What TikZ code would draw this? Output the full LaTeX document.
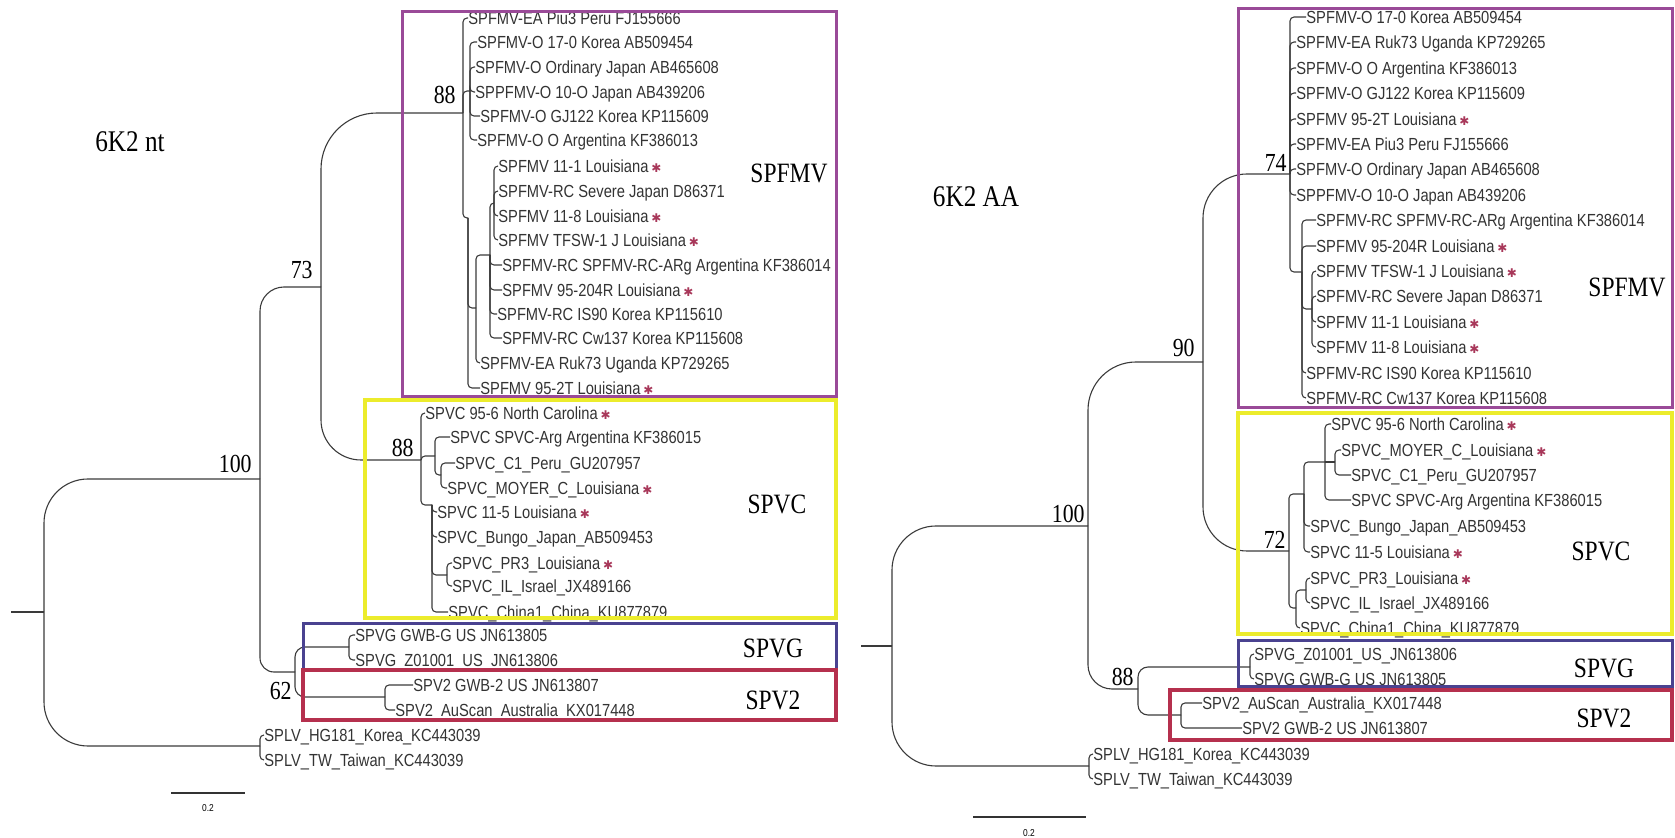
\documentclass[tikz,border=0pt]{standalone}
\usepackage{fontspec}
\setmainfont{Liberation Serif}[FakeStretch=0.84]
\newfontfamily\leaffont{Liberation Sans}[FakeStretch=0.84]
\newfontfamily\starfont{DejaVu Sans}
\definecolor{fmvStroke}{HTML}{9A4A98}
\definecolor{pvcStroke}{HTML}{ECEC2C}
\definecolor{pvgStroke}{HTML}{4A4290}
\definecolor{pvtwoStroke}{HTML}{B5304E}
\definecolor{starRed}{HTML}{A8385A}
\definecolor{branchGray}{HTML}{3A3A3A}
\newcommand{\lsv}{\,{\starfont\fontsize{6}{6}\selectfont\color{starRed}✱}}

\begin{document}
\begin{tikzpicture}[x=0.5pt,y=-0.5pt,
  leaf/.style={anchor=west,inner sep=0pt,text height=6.3pt,text depth=0pt,text=black!80,font=\leaffont\fontsize{8.75}{10}\selectfont},
  boot/.style={anchor=south east,inner sep=0pt,font=\fontsize{13}{13}\selectfont},
  clade/.style={inner sep=0pt,font=\fontsize{14}{14}\selectfont},
  title/.style={inner sep=0pt,font=\fontsize{15}{15}\selectfont},
  br/.style={draw=branchGray,line width=0.55pt,rounded corners=2pt},
  deep/.style={br,rounded corners=#1},
  box/.style={draw=#1,line width=1.5pt},
  bar/.style={draw=black!80,line width=0.6pt},
  barlabel/.style={inner sep=0pt,font=\leaffont\fontsize{5}{5}\selectfont}
]
\useasboundingbox (0,0) rectangle (1675,838);
% left tree: 6K2 nucleotide
\node[title] (tL) at (130,142) {6K2 nt};
\node[leaf] (L01) at (468,18) {SPFMV-EA Piu3 Peru FJ155666};
\node[leaf] (L02) at (477,42) {SPFMV-O 17-0 Korea AB509454};
\node[leaf] (L03) at (475,67) {SPFMV-O Ordinary Japan AB465608};
\node[leaf] (L04) at (475,92) {SPPFMV-O 10-O Japan AB439206};
\node[leaf] (L05) at (480,116) {SPFMV-O GJ122 Korea KP115609};
\node[leaf] (L06) at (477,140) {SPFMV-O O Argentina KF386013};
\node[leaf] (L07) at (498,166) {SPFMV 11-1 Louisiana\lsv};
\node[leaf] (L08) at (498,191) {SPFMV-RC Severe Japan D86371};
\node[leaf] (L09) at (498,216) {SPFMV 11-8 Louisiana\lsv};
\node[leaf] (L10) at (498,240) {SPFMV TFSW-1 J Louisiana\lsv};
\node[leaf] (L11) at (502,265) {SPFMV-RC SPFMV-RC-ARg Argentina KF386014};
\node[leaf] (L12) at (502,290) {SPFMV 95-204R Louisiana\lsv};
\node[leaf] (L13) at (497,314) {SPFMV-RC IS90 Korea KP115610};
\node[leaf] (L14) at (502,338) {SPFMV-RC Cw137 Korea KP115608};
\node[leaf] (L15) at (480,363) {SPFMV-EA Ruk73 Uganda KP729265};
\node[leaf] (L16) at (480,388) {SPFMV 95-2T Louisiana\lsv};
\node[leaf] (L17) at (425,413) {SPVC 95-6 North Carolina\lsv};
\node[leaf] (L18) at (450,437) {SPVC SPVC-Arg Argentina KF386015};
\node[leaf] (L19) at (455,463) {SPVC\_C1\_Peru\_GU207957};
\node[leaf] (L20) at (447,488) {SPVC\_MOYER\_C\_Louisiana\lsv};
\node[leaf] (L21) at (437,512) {SPVC 11-5 Louisiana\lsv};
\node[leaf] (L22) at (437,537) {SPVC\_Bungo\_Japan\_AB509453};
\node[leaf] (L23) at (452,563) {SPVC\_PR3\_Louisiana\lsv};
\node[leaf] (L24) at (452,586) {SPVC\_IL\_Israel\_JX489166};
\node[leaf] (L25) at (448,612) {SPVC\_China1\_China\_KU877879};
\node[leaf] (L26) at (355,635) {SPVG GWB-G US JN613805};
\node[leaf] (L27) at (355,660) {SPVG\_Z01001\_US\_JN613806};
\node[leaf] (L28) at (413,685) {SPV2 GWB-2 US JN613807};
\node[leaf] (L29) at (395,710) {SPV2\_AuScan\_Australia\_KX017448};
\node[leaf] (L30) at (264,735) {SPLV\_HG181\_Korea\_KC443039};
\node[leaf] (L31) at (264,760) {SPLV\_TW\_Taiwan\_KC443039};
\coordinate (rL0) at (11,612);
\coordinate (rL) at (44,612);
\coordinate (n100L) at (260,479);
\coordinate (sL) at (260,746);
\coordinate (n73L) at (321,287);
\coordinate (n62L) at (295,672);
\coordinate (n88aL) at (463,113);
\coordinate (n88bL) at (421,460);
\coordinate (oL) at (470,91);
\coordinate (dL) at (468,218);
\coordinate (eL) at (476,308);
\coordinate (fL) at (490,255);
\coordinate (gL) at (494,203);
\coordinate (cA) at (435,456);
\coordinate (cB) at (441,475);
\coordinate (cC) at (432,505);
\coordinate (cD) at (447,575);
\coordinate (gvL) at (349,647);
\coordinate (v2L) at (385,697);
\draw[br] (rL0) -- (rL);
\draw[deep=22pt] (rL) |- (n100L);
\draw[deep=22pt] (rL) |- (sL);
\draw[deep=12pt] (n100L) |- (n73L);
\draw[deep=7pt] (n100L) |- (n62L);
\draw[deep=28pt] (n73L) |- (n88aL);
\draw[deep=20pt] (n73L) |- (n88bL);
\draw[br] (n88aL) |- (L01.west);
\draw[br] (n88aL) |- (oL);
\draw[br] (n88aL) |- (dL);
\draw[br] (oL) |- (L02.west);
\draw[br] (oL) |- (L03.west);
\draw[br] (oL) |- (L04.west);
\draw[br] (oL) |- (L05.west);
\draw[br] (oL) |- (L06.west);
\draw[br] (dL) |- (L16.west);
\draw[br] (dL) |- (eL);
\draw[br] (eL) |- (fL);
\draw[br] (eL) |- (L15.west);
\draw[br] (fL) |- (gL);
\draw[br] (fL) |- (L11.west);
\draw[br] (fL) |- (L12.west);
\draw[br] (fL) |- (L13.west);
\draw[br] (fL) |- (L14.west);
\draw[br] (gL) |- (L07.west);
\draw[br] (gL) |- (L08.west);
\draw[br] (gL) |- (L09.west);
\draw[br] (gL) |- (L10.west);
\draw[br] (n88bL) |- (L17.west);
\draw[br] (n88bL) |- (cA);
\draw[br] (n88bL) |- (cC);
\draw[br] (cA) |- (L18.west);
\draw[br] (cA) |- (cB);
\draw[br] (cB) |- (L19.west);
\draw[br] (cB) |- (L20.west);
\draw[br] (cC) |- (L21.west);
\draw[br] (cC) |- (L22.west);
\draw[br] (cC) |- (cD);
\draw[br] (cC) |- (L25.west);
\draw[br] (cD) |- (L23.west);
\draw[br] (cD) |- (L24.west);
\draw[deep=5pt] (n62L) |- (gvL);
\draw[deep=5pt] (n62L) |- (v2L);
\draw[br] (gvL) |- (L26.west);
\draw[br] (gvL) |- (L27.west);
\draw[br] (v2L) |- (L28.west);
\draw[br] (v2L) |- (L29.west);
\draw[br] (sL) |- (L30.west);
\draw[br] (sL) |- (L31.west);
\node[boot] (b100L) at (252,473) {100};
\node[boot] (b73L) at (313,279) {73};
\node[boot] (b88aL) at (456,104) {88};
\node[boot] (b88bL) at (414,457) {88};
\node[boot,anchor=north east] (b62L) at (292,682) {62};
\draw[box=fmvStroke] (402,12) rectangle (836,397);
\draw[box=pvcStroke,line width=2pt] (365,400) rectangle (836,618);
\draw[box=pvgStroke] (303,624) rectangle (836,670);
\draw[box=pvtwoStroke,line width=2pt] (303,670) rectangle (836,720);
\node[clade] (kFMVL) at (789,173) {SPFMV};
\node[clade] (kPVCL) at (777,504) {SPVC};
\node[clade] (kPVGL) at (773,648) {SPVG};
\node[clade] (kPV2L) at (773,700) {SPV2};
\coordinate (sbLa) at (171,793);
\coordinate (sbLb) at (245,793);
\draw[bar] (sbLa) -- (sbLb);
\node[barlabel] (sbL) at (208,808) {0.2};
% right tree: 6K2 amino acid
\node[title] (tR) at (976,197) {6K2 AA};
\node[leaf] (R01) at (1306,17) {SPFMV-O 17-0 Korea AB509454};
\node[leaf] (R02) at (1296,42) {SPFMV-EA Ruk73 Uganda KP729265};
\node[leaf] (R03) at (1296,68) {SPFMV-O O Argentina KF386013};
\node[leaf] (R04) at (1296,93) {SPFMV-O GJ122 Korea KP115609};
\node[leaf] (R05) at (1296,119) {SPFMV 95-2T Louisiana\lsv};
\node[leaf] (R06) at (1296,144) {SPFMV-EA Piu3 Peru FJ155666};
\node[leaf] (R07) at (1296,169) {SPFMV-O Ordinary Japan AB465608};
\node[leaf] (R08) at (1296,195) {SPPFMV-O 10-O Japan AB439206};
\node[leaf] (R09) at (1316,220) {SPFMV-RC SPFMV-RC-ARg Argentina KF386014};
\node[leaf] (R10) at (1316,246) {SPFMV 95-204R Louisiana\lsv};
\node[leaf] (R11) at (1316,271) {SPFMV TFSW-1 J Louisiana\lsv};
\node[leaf] (R12) at (1316,296) {SPFMV-RC Severe Japan D86371};
\node[leaf] (R13) at (1316,322) {SPFMV 11-1 Louisiana\lsv};
\node[leaf] (R14) at (1316,347) {SPFMV 11-8 Louisiana\lsv};
\node[leaf] (R15) at (1306,373) {SPFMV-RC IS90 Korea KP115610};
\node[leaf] (R16) at (1306,398) {SPFMV-RC Cw137 Korea KP115608};
\node[leaf] (R17) at (1331,424) {SPVC 95-6 North Carolina\lsv};
\node[leaf] (R18) at (1341,450) {SPVC\_MOYER\_C\_Louisiana\lsv};
\node[leaf] (R19) at (1351,475) {SPVC\_C1\_Peru\_GU207957};
\node[leaf] (R20) at (1351,500) {SPVC SPVC-Arg Argentina KF386015};
\node[leaf] (R21) at (1310,526) {SPVC\_Bungo\_Japan\_AB509453};
\node[leaf] (R22) at (1310,552) {SPVC 11-5 Louisiana\lsv};
\node[leaf] (R23) at (1310,578) {SPVC\_PR3\_Louisiana\lsv};
\node[leaf] (R24) at (1310,603) {SPVC\_IL\_Israel\_JX489166};
\node[leaf] (R25) at (1300,628) {SPVC\_China1\_China\_KU877879};
\node[leaf] (R26) at (1254,654) {SPVG\_Z01001\_US\_JN613806};
\node[leaf] (R27) at (1254,679) {SPVG GWB-G US JN613805};
\node[leaf] (R28) at (1202,703) {SPV2\_AuScan\_Australia\_KX017448};
\node[leaf] (R29) at (1242,728) {SPV2 GWB-2 US JN613807};
\node[leaf] (R30) at (1093,754) {SPLV\_HG181\_Korea\_KC443039};
\node[leaf] (R31) at (1093,779) {SPLV\_TW\_Taiwan\_KC443039};
\coordinate (rR0) at (861,646);
\coordinate (rR) at (892,646);
\coordinate (n100R) at (1088,526);
\coordinate (sR) at (1089,766);
\coordinate (n90R) at (1203,362);
\coordinate (n88R) at (1138,689);
\coordinate (n74R) at (1290,174);
\coordinate (n72R) at (1289,551);
\coordinate (mR) at (1302,272);
\coordinate (tR1) at (1312,309);
\coordinate (naR) at (1304,494);
\coordinate (nbR) at (1325,462);
\coordinate (ncR) at (1335,462);
\coordinate (ndR) at (1296,608);
\coordinate (neR) at (1306,590);
\coordinate (gvR) at (1250,667);
\coordinate (v2R) at (1181,715);
\draw[br] (rR0) -- (rR);
\draw[deep=22pt] (rR) |- (n100R);
\draw[deep=22pt] (rR) |- (sR);
\draw[deep=24pt] (n100R) |- (n90R);
\draw[deep=12pt] (n100R) |- (n88R);
\draw[deep=22pt] (n90R) |- (n74R);
\draw[deep=22pt] (n90R) |- (n72R);
\draw[br] (n74R) |- (R01.west);
\draw[br] (n74R) |- (R02.west);
\draw[br] (n74R) |- (R03.west);
\draw[br] (n74R) |- (R04.west);
\draw[br] (n74R) |- (R05.west);
\draw[br] (n74R) |- (R06.west);
\draw[br] (n74R) |- (R07.west);
\draw[br] (n74R) |- (R08.west);
\draw[br] (n74R) |- (mR);
\draw[br] (mR) |- (R09.west);
\draw[br] (mR) |- (R10.west);
\draw[br] (mR) |- (tR1);
\draw[br] (mR) |- (R15.west);
\draw[br] (mR) |- (R16.west);
\draw[br] (tR1) |- (R11.west);
\draw[br] (tR1) |- (R12.west);
\draw[br] (tR1) |- (R13.west);
\draw[br] (tR1) |- (R14.west);
\draw[br] (n72R) |- (naR);
\draw[br] (n72R) |- (ndR);
\draw[br] (naR) |- (nbR);
\draw[br] (naR) |- (R21.west);
\draw[br] (naR) |- (R22.west);
\draw[br] (nbR) |- (R17.west);
\draw[br] (nbR) -- (ncR);
\draw[br] (nbR) |- (R20.west);
\draw[br] (ncR) |- (R18.west);
\draw[br] (ncR) |- (R19.west);
\draw[br] (ndR) |- (neR);
\draw[br] (ndR) |- (R25.west);
\draw[br] (neR) |- (R23.west);
\draw[br] (neR) |- (R24.west);
\draw[deep=5pt] (n88R) |- (gvR);
\draw[deep=5pt] (n88R) |- (v2R);
\draw[br] (gvR) |- (R26.west);
\draw[br] (gvR) |- (R27.west);
\draw[br] (v2R) |- (R28.west);
\draw[br] (v2R) |- (R29.west);
\draw[br] (sR) |- (R30.west);
\draw[br] (sR) |- (R31.west);
\node[boot] (b100R) at (1085,523) {100};
\node[boot] (b90R) at (1195,357) {90};
\node[boot] (b74R) at (1287,172) {74};
\node[boot] (b72R) at (1286,549) {72};
\node[boot] (b88R) at (1134,686) {88};
\draw[box=fmvStroke] (1238,9) rectangle (1672,408);
\draw[box=pvcStroke,line width=2pt] (1238,413) rectangle (1672,634);
\draw[box=pvgStroke] (1238,641) rectangle (1672,687);
\draw[box=pvtwoStroke,line width=2pt] (1170,690) rectangle (1672,740);
\node[clade] (kFMVR) at (1627,287) {SPFMV};
\node[clade] (kPVCR) at (1601,551) {SPVC};
\node[clade] (kPVGR) at (1604,668) {SPVG};
\node[clade] (kPV2R) at (1604,718) {SPV2};
\coordinate (sbRa) at (973,817);
\coordinate (sbRb) at (1086,817);
\draw[bar] (sbRa) -- (sbRb);
\node[barlabel] (sbR) at (1029,833) {0.2};
\end{tikzpicture}
\end{document}
